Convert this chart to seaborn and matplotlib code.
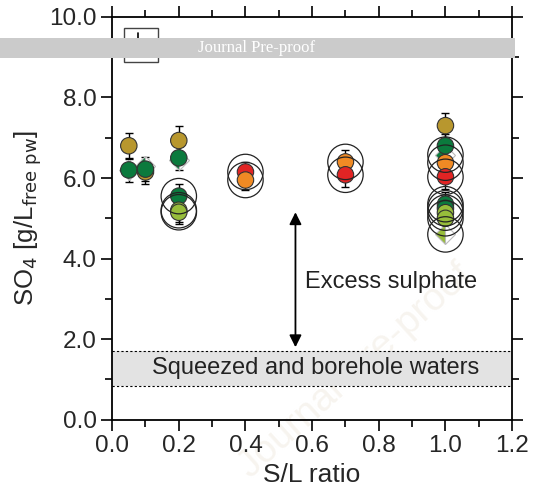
import matplotlib
matplotlib.use("Agg")
import matplotlib.pyplot as plt
import seaborn as sns
import pandas as pd
import numpy as np
from matplotlib.patches import Rectangle
from matplotlib.lines import Line2D
from matplotlib.ticker import MultipleLocator, FormatStrFormatter

# ---- data ----
circle_x = [0.05, 0.05, 0.1, 0.1, 0.2, 0.2, 0.2, 0.2, 0.2, 0.4, 0.4, 0.7, 0.7,
            1.0, 1.0, 1.0, 1.0, 1.0, 1.0, 1.0, 1.0]
circle_y = [6.8, 6.2, 6.15, 6.22, 6.93, 6.5, 5.55, 5.2, 5.15, 6.15, 5.95, 6.4, 6.08,
            7.3, 6.8, 6.38, 6.03, 5.35, 5.25, 5.14, 5.0]
circle_grp = ["gold", "green", "gold", "green", "gold", "green", "green", "lime", "lime",
              "red", "orange", "orange", "red",
              "gold", "green", "orange", "red", "green", "green", "lime", "lime"]
circle_ring = [False, False, False, False, False, False, True, True, True, True, True, True, True,
               False, False, True, True, True, True, True, True]
circle_err = [0.32, 0.3, 0.3, 0.3, 0.35, 0.3, 0.3, 0.3, 0.3, 0.25, 0.25, 0.3, 0.3,
              0.32, 0.3, 0.3, 0.3, 0.3, 0.3, 0.3, 0.3]

diamond_x = [0.05, 0.1, 0.2, 1.0, 1.0]
diamond_y = [6.2, 6.3, 6.45, 6.58, 4.6]
diamond_grp = ["green", "green", "green", "green", "lime"]
diamond_ring = [False, False, False, True, True]

band_low, band_high = 0.85, 1.7
arrow_bottom, arrow_top, arrow_x = 1.8, 5.15, 0.55

palette = {"gold": "#B8972E", "green": "#0B7A3D", "orange": "#F08A24",
           "red": "#E12424", "lime": "#97BD3B"}

sns.set_theme(style="white")
plt.rcParams["font.family"] = ["Liberation Sans", "DejaVu Sans"]

fig = plt.figure(figsize=(5.34, 4.95), dpi=100)
ax = fig.add_axes([0.21, 0.152, 0.749, 0.814])
ax.patch.set_alpha(0)

# faint watermark (behind axes content)
fig.text(0.665, 0.25, "Journal Pre-proof", ha="center", va="center", rotation=42,
         color="#f7f4ef", fontsize=28, zorder=-1, family=["Liberation Sans", "DejaVu Sans"])

df = pd.DataFrame({"x": circle_x, "y": circle_y, "grp": circle_grp,
                   "ring": circle_ring, "err": circle_err})
dd = pd.DataFrame({"x": diamond_x, "y": diamond_y, "grp": diamond_grp, "ring": diamond_ring})

# band
ax.axhspan(band_low, band_high, color="#e3e3e3", zorder=0, lw=0)
ax.axhline(band_low, color="black", ls=(0, (2, 2)), lw=0.8, zorder=1)
ax.axhline(band_high, color="black", ls=(0, (2, 2)), lw=0.8, zorder=1)
ax.text(0.61, (band_low + band_high) / 2, "Squeezed and borehole waters",
        ha="center", va="center", fontsize=17, color="#222222")

# error bars
ax.errorbar(df["x"], df["y"], yerr=df["err"], fmt="none", ecolor="black",
            elinewidth=1, capsize=3, capthick=1, zorder=2)

# diamonds (half-filled)
for _, r in dd.iterrows():
    ax.plot(r["x"], r["y"], marker="D", markersize=10, fillstyle="left",
            markerfacecolor=palette[r["grp"]], markerfacecoloralt="white",
            markeredgecolor="#bbbbbb", markeredgewidth=0.8, ls="none", zorder=3)

# circles
sns.scatterplot(data=df, x="x", y="y", hue="grp", palette=palette, s=140,
                edgecolor="#333333", linewidth=0.8, legend=False, ax=ax, zorder=4)

# rings
rings = pd.concat([df[df["ring"]][["x", "y"]], dd[dd["ring"]][["x", "y"]]])
ax.scatter(rings["x"], rings["y"], s=650, facecolors="none", edgecolors="#222222",
           linewidths=0.9, zorder=5)

# arrow
ax.annotate("", xy=(arrow_x, arrow_top), xytext=(arrow_x, arrow_bottom),
            arrowprops=dict(arrowstyle="<|-|>", color="black", lw=1.3,
                            mutation_scale=18, shrinkA=0, shrinkB=0))
ax.text(0.58, 3.42, "Excess sulphate", ha="left", va="center", fontsize=17,
        color="#222222")

ax.set_xlim(0, 1.2)
ax.set_ylim(0, 10)
ax.xaxis.set_major_locator(MultipleLocator(0.2))
ax.xaxis.set_minor_locator(MultipleLocator(0.1))
ax.yaxis.set_major_locator(MultipleLocator(2))
ax.yaxis.set_minor_locator(MultipleLocator(1))
ax.xaxis.set_major_formatter(FormatStrFormatter("%.1f"))
ax.yaxis.set_major_formatter(FormatStrFormatter("%.1f"))
ax.tick_params(which="both", direction="out", top=True, right=True, bottom=True, left=True,
               color="black", labelsize=17.5, width=1.2)
ax.tick_params(which="major", length=8, pad=3)
ax.tick_params(which="minor", length=5)
for s in ax.spines.values():
    s.set_color("black")
    s.set_linewidth(1.3)
ax.set_xlabel("S/L ratio", fontsize=19, labelpad=4)
ax.set_ylabel(r"SO$_4$ [g/L$_{\mathrm{free\ pw}}$]", fontsize=18.5, labelpad=4)

# small legend-like box
fig.add_artist(Rectangle((124 / 534, 1 - 62 / 495), 34 / 534, 34 / 495,
                         transform=fig.transFigure, fill=False, ec="#444444", lw=1))
fig.add_artist(Line2D([138 / 534, 138 / 534], [1 - 33 / 495, 1 - 46 / 495],
                      transform=fig.transFigure, color="black", lw=1.2))
fig.add_artist(Line2D([138 / 534, 146 / 534], [1 - 46 / 495, 1 - 46 / 495],
                      transform=fig.transFigure, color="black", lw=1.2))

# banner
fig.add_artist(Rectangle((0, 1 - 58 / 495), 515 / 534, 20 / 495,
                         transform=fig.transFigure, color="#cbcbcb", lw=0, zorder=10))
fig.text(257 / 534, 1 - 48 / 495, "Journal Pre-proof", ha="center", va="center",
         color="white", fontsize=12, family=["Liberation Serif", "DejaVu Serif"], zorder=11)

fig.savefig("out.png", dpi=100)
